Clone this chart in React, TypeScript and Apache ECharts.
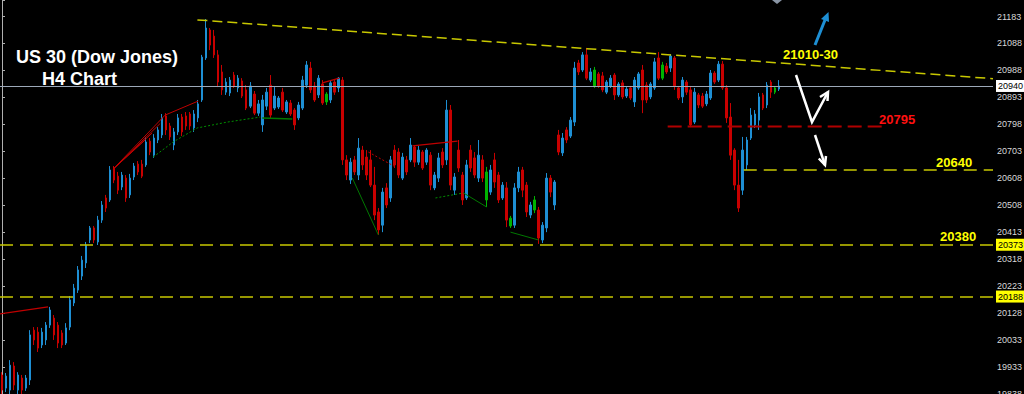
import { useEffect, useRef } from "react";
import * as echarts from "echarts";

// ---------- data ----------
const slotCount = 248; // candle slots incl. empty space right of last bar
const categories = Array.from({ length: slotCount }, (_, i) => String(i + 1));

// [open, close, low, high]
const candles: number[][] = [
  [19908, 19854, 19840, 19918], [19861, 19904, 19847, 19915], [19854, 19943, 19840, 19961], [19940, 19872, 19854, 19954],
  [19854, 19908, 19840, 19918], [19897, 19854, 19840, 19908], [19861, 19897, 19851, 19908], [19890, 20051, 19872, 20068],
  [20068, 20033, 20015, 20079], [20061, 20004, 19990, 20079], [20015, 20061, 20004, 20076], [20033, 20086, 20015, 20097],
  [20086, 20140, 20076, 20151], [20111, 20051, 20033, 20122], [20086, 20022, 20004, 20097], [20058, 20015, 20004, 20068],
  [20022, 20076, 20015, 20093], [20079, 20176, 20068, 20190], [20165, 20218, 20154, 20233], [20211, 20283, 20201, 20297],
  [20261, 20318, 20247, 20333], [20308, 20372, 20290, 20383], [20390, 20433, 20379, 20440], [20433, 20390, 20379, 20440],
  [20383, 20461, 20372, 20476], [20461, 20515, 20451, 20529], [20540, 20504, 20490, 20551], [20533, 20640, 20526, 20654],
  [20647, 20604, 20593, 20654], [20618, 20568, 20554, 20633], [20579, 20622, 20568, 20633], [20611, 20540, 20526, 20622],
  [20551, 20611, 20540, 20626], [20615, 20654, 20604, 20665], [20661, 20633, 20622, 20672], [20661, 20618, 20611, 20676],
  [20658, 20740, 20651, 20758], [20743, 20704, 20693, 20754], [20693, 20754, 20683, 20768], [20747, 20783, 20736, 20793],
  [20765, 20826, 20754, 20840], [20833, 20783, 20765, 20843], [20797, 20758, 20747, 20808], [20729, 20776, 20711, 20790],
  [20776, 20826, 20765, 20840], [20829, 20776, 20761, 20840], [20833, 20797, 20783, 20847], [20840, 20797, 20783, 20847],
  [20790, 20840, 20776, 20854], [20826, 20876, 20811, 20890], [20890, 21043, 20883, 21051], [21040, 21147, 21033, 21179],
  [21140, 21086, 21068, 21147], [21118, 21051, 21040, 21140], [21051, 20954, 20936, 21068], [20990, 20926, 20908, 21015],
  [20918, 20954, 20908, 20968], [20915, 20961, 20904, 20972], [20979, 20940, 20933, 20990], [20933, 20968, 20918, 20979],
  [20958, 20904, 20897, 20968], [20926, 20861, 20854, 20943], [20868, 20940, 20861, 20954], [20911, 20843, 20836, 20922],
  [20843, 20876, 20833, 20890], [20801, 20890, 20776, 20908], [20868, 20918, 20854, 20933], [20943, 20836, 20826, 20979],
  [20861, 20904, 20854, 20936], [20865, 20897, 20858, 20904], [20918, 20854, 20847, 20933], [20847, 20883, 20840, 20890],
  [20879, 20840, 20833, 20890], [20854, 20801, 20783, 20861], [20826, 20872, 20818, 20883], [20861, 20961, 20854, 20976],
  [20943, 21015, 20933, 21029], [21004, 20926, 20915, 21026], [20940, 20890, 20883, 20954], [20908, 20968, 20897, 20979],
  [20947, 20879, 20872, 20961], [20883, 20911, 20872, 20918], [20890, 20951, 20879, 20961], [20954, 20918, 20908, 20961],
  [20933, 20968, 20918, 20972], [20961, 20676, 20658, 20972], [20676, 20622, 20604, 20693], [20604, 20668, 20590, 20683],
  [20676, 20633, 20622, 20690], [20622, 20718, 20604, 20754], [20711, 20658, 20640, 20726], [20686, 20622, 20604, 20711],
  [20676, 20586, 20579, 20711], [20586, 20479, 20461, 20651], [20490, 20426, 20408, 20504], [20443, 20561, 20418, 20576],
  [20576, 20515, 20504, 20593], [20540, 20676, 20526, 20690], [20711, 20658, 20647, 20729], [20704, 20622, 20611, 20718],
  [20611, 20686, 20604, 20701], [20676, 20633, 20622, 20690], [20676, 20729, 20668, 20754], [20722, 20668, 20651, 20729],
  [20668, 20711, 20658, 20726], [20704, 20647, 20640, 20711], [20668, 20711, 20658, 20718], [20693, 20586, 20568, 20704],
  [20576, 20622, 20568, 20633], [20611, 20683, 20597, 20701], [20704, 20658, 20647, 20718], [20676, 20854, 20658, 20890],
  [20854, 20586, 20568, 20872], [20568, 20615, 20551, 20629], [20711, 20647, 20633, 20747], [20622, 20533, 20515, 20633],
  [20540, 20658, 20533, 20676], [20711, 20647, 20633, 20729], [20683, 20622, 20611, 20704], [20611, 20693, 20597, 20747],
  [20676, 20611, 20597, 20693], [20633, 20533, 20508, 20651], [20561, 20640, 20551, 20658], [20676, 20597, 20576, 20701],
  [20622, 20533, 20522, 20633], [20540, 20586, 20533, 20597], [20576, 20461, 20436, 20597], [20468, 20440, 20433, 20476],
  [20443, 20576, 20433, 20593], [20576, 20633, 20561, 20651], [20640, 20568, 20543, 20651], [20586, 20490, 20472, 20597],
  [20479, 20515, 20468, 20526], [20497, 20533, 20486, 20547], [20497, 20397, 20376, 20508], [20390, 20443, 20379, 20454],
  [20433, 20611, 20418, 20629], [20611, 20561, 20543, 20622], [20515, 20597, 20497, 20604], [20765, 20704, 20693, 20783],
  [20701, 20754, 20690, 20772], [20783, 20747, 20736, 20793], [20761, 20818, 20754, 20829], [20811, 21004, 20797, 21026],
  [21022, 20990, 20979, 21033], [20997, 21051, 20990, 21061], [21051, 20968, 20961, 21076], [20961, 20990, 20954, 21004],
  [20997, 20940, 20933, 21008], [20983, 20940, 20933, 20990], [20976, 20926, 20918, 20990], [20918, 20954, 20911, 20961],
  [20940, 20968, 20933, 20979], [20979, 20908, 20890, 20986], [20908, 20947, 20901, 20954], [20951, 20901, 20893, 20961],
  [20904, 20929, 20897, 20936], [20933, 20897, 20890, 20940], [20883, 20961, 20865, 20972], [20933, 20983, 20926, 20990],
  [20997, 20890, 20843, 21015], [20943, 20890, 20879, 20954], [20901, 20947, 20893, 20954], [20933, 21026, 20926, 21040],
  [21040, 20968, 20961, 21061], [20968, 21015, 20961, 21026], [21011, 20990, 20983, 21022], [21004, 21047, 20990, 21054],
  [21040, 20940, 20926, 21047], [20933, 20897, 20890, 20940], [20901, 20961, 20879, 20972], [20954, 20918, 20908, 20961],
  [20926, 20801, 20793, 20940], [20811, 20918, 20804, 20933], [20908, 20872, 20861, 20915], [20904, 20868, 20861, 20915],
  [20876, 20911, 20868, 20922], [20897, 20986, 20890, 20997], [20986, 20954, 20947, 20993], [20961, 21018, 20954, 21029],
  [21018, 20933, 20926, 21029], [20933, 20826, 20808, 20943], [20829, 20693, 20676, 20879], [20711, 20586, 20568, 20718],
  [20586, 20504, 20490, 20676], [20568, 20711, 20551, 20758], [20658, 20747, 20640, 20758], [20754, 20836, 20747, 20861],
  [20801, 20840, 20790, 20854], [20818, 20901, 20783, 20915], [20908, 20861, 20854, 20915], [20872, 20943, 20861, 20954],
  [20954, 20918, 20897, 20961], [20918, 20933, 20911, 20940], [20929, 20940, 20922, 20961],
];
const greenCandles = [81, 121, 127, 133, 148, 165, 193];

const yTickLabels = ["19838", "19933", "20033", "20128", "20223", "20318", "20413", "20508", "20608", "20703", "20798", "20893", "20988", "21088", "21183"];
const yTickBase = 206;
const yInterval = 96.288;
const yMin = 19840;
const yMax = 21247;

const bidPrice = 20940;
const supportLevels = [20373, 20188];

// [slot index, price]
const resistanceLine = [[48.8, 21176], [247.5, 20966]];
const redLevelLine = [[166.25, 20795], [220.25, 20795]];
const yellowLevelLine = [[185.25, 20640], [247.5, 20640]];
const redLeftLine = [[-0.5, 20126], [11.5, 20151]];
const redFanMain = [[27.75, 20643], [40.75, 20836], [49, 20886]];
const redFan2 = [[27.75, 20643], [35.75, 20747]];
const redFan3 = [[27.75, 20643], [37.5, 20772]];
const redFan4 = [[27.75, 20643], [39.5, 20806]];
const greenDotted1 = [[37.75, 20686], [42.75, 20740], [48.75, 20790], [56.25, 20811], [64.5, 20829]];
const greenSolid1 = [[65, 20826], [72.5, 20822]];
const redShort = [[80, 20951], [84.25, 20968]];
const greenLine2 = [[87.5, 20611], [94, 20408]];
const redDotted2 = [[91.5, 20704], [98.25, 20651]];
const redLine3 = [[102.5, 20726], [113.75, 20743]];
const greenDotted2 = [[108.25, 20540], [115.25, 20558]];
const greenLine3 = [[115.25, 20558], [121, 20508]];
const greenLine4 = [[127, 20418], [134, 20390]];

const BLUE = "#1e8fd4";
const RED = "#c80000";
const GREEN = "#00b400";
const FONT = "'Liberation Sans', Arial, sans-serif";

export default function App() {
  const ref = useRef<HTMLDivElement>(null);
  useEffect(() => {
    if (!ref.current) return;
    document.body.style.margin = "0";
    document.body.style.background = "#000";
    const chart = echarts.init(ref.current, undefined, { renderer: "svg" });

    const candleData = candles.map((c, i) =>
      greenCandles.includes(i)
        ? { value: c, itemStyle: { color: GREEN, color0: GREEN, borderColor: GREEN, borderColor0: GREEN } }
        : c
    );

    const lineSeries = (data: number[][], color: string, width: number, type: any, z = 3) => ({
      type: "line",
      xAxisIndex: 1,
      yAxisIndex: 0,
      data,
      symbol: "none",
      silent: true,
      z,
      lineStyle: { color, width, type },
    });

    const boxLabel = (bg: string) => ({
      show: true,
      position: "end",
      distance: 3,
      color: "#000",
      backgroundColor: bg,
      padding: [2, 2, 1, 2],
      fontSize: 9,
      fontFamily: FONT,
    });

    const option: any = {
      animation: false,
      backgroundColor: "#000",
      grid: { left: 0, right: 31, top: 0, bottom: 0, containLabel: false, outerBoundsMode: "none" },
      xAxis: [
        { type: "category", data: categories, show: false, boundaryGap: true },
        { type: "value", min: -0.5, max: slotCount - 0.5, show: false },
      ],
      yAxis: {
        type: "value",
        position: "right",
        min: yMin,
        max: yMax,
        interval: yInterval,
        axisLine: { show: true, lineStyle: { color: "#b0b0b0" } },
        axisTick: { show: true, length: 3, lineStyle: { color: "#b0b0b0" } },
        splitLine: { show: false },
        axisLabel: {
          color: "#d8d8d8",
          fontSize: 9,
          fontFamily: FONT,
          margin: 4,
          formatter: (v: number) => yTickLabels[Math.round(v / yInterval) - yTickBase] ?? "",
        },
      },
      series: [
        {
          type: "candlestick",
          xAxisIndex: 0,
          yAxisIndex: 0,
          data: candleData,
          barWidth: 2,
          itemStyle: { color: BLUE, color0: RED, borderColor: BLUE, borderColor0: RED, borderWidth: 1 },
          markLine: {
            silent: true,
            symbol: ["none", "none"],
            data: [
              { yAxis: bidPrice, lineStyle: { color: "#9ca8b8", width: 1, type: "solid" }, label: { ...boxLabel("#ffffff"), formatter: String(bidPrice) } },
              ...supportLevels.map((v) => ({
                yAxis: v,
                lineStyle: { color: "#c8c800", width: 1.5, type: [13, 7] },
                label: { ...boxLabel("#ffff00"), formatter: String(v) },
              })),
            ],
          },
        },
        lineSeries(resistanceLine, "#c8c800", 1.5, [10, 5], 4),
        lineSeries(redLevelLine, "#b00000", 2, [14, 6]),
        lineSeries(yellowLevelLine, "#c8c800", 1.5, [13, 7]),
        lineSeries(redLeftLine, "#c00000", 1.2, "solid"),
        lineSeries(redFanMain, "#c00000", 1, "solid"),
        lineSeries(redFan2, "#c00000", 1, "solid"),
        lineSeries(redFan3, "#c00000", 1, "solid"),
        lineSeries(redFan4, "#c00000", 1, "solid"),
        lineSeries(greenDotted1, "#009000", 1, [2, 2]),
        lineSeries(greenSolid1, "#007800", 1.5, "solid"),
        lineSeries(redShort, "#c00000", 1.2, "solid"),
        lineSeries(greenLine2, "#007800", 1, "solid"),
        lineSeries(redDotted2, "#c00000", 1, [2, 2]),
        lineSeries(redLine3, "#c00000", 1.2, "solid"),
        lineSeries(greenDotted2, "#009000", 1, [2, 2]),
        lineSeries(greenLine3, "#007800", 1, "solid"),
        lineSeries(greenLine4, "#007800", 1, "solid"),
      ],
      graphic: [
        { type: "text", x: 16, y: 57, z: 10, style: { text: "US 30 (Dow Jones)", fill: "#ffffff", fontSize: 18, fontWeight: "bold", fontFamily: FONT, align: "left", verticalAlign: "middle" } },
        { type: "text", x: 42, y: 79, z: 10, style: { text: "H4 Chart", fill: "#ffffff", fontSize: 18, fontWeight: "bold", fontFamily: FONT, align: "left", verticalAlign: "middle" } },
        { type: "text", x: 783, y: 54, z: 10, style: { text: "21010-30", fill: "#ffff00", fontSize: 13, fontWeight: "bold", fontFamily: FONT, align: "left", verticalAlign: "middle" } },
        { type: "text", x: 879, y: 119, z: 10, style: { text: "20795", fill: "#ff1010", fontSize: 13, fontWeight: "bold", fontFamily: FONT, align: "left", verticalAlign: "middle" } },
        { type: "text", x: 936, y: 162, z: 10, style: { text: "20640", fill: "#ffff00", fontSize: 13, fontWeight: "bold", fontFamily: FONT, align: "left", verticalAlign: "middle" } },
        { type: "text", x: 940, y: 236, z: 10, style: { text: "20380", fill: "#ffff00", fontSize: 13, fontWeight: "bold", fontFamily: FONT, align: "left", verticalAlign: "middle" } },
        // blue arrow
        { type: "polyline", z: 10, shape: { points: [[815, 45], [825, 20]] }, style: { stroke: "#1e8fd4", lineWidth: 3, fill: null } },
        { type: "polygon", z: 10, shape: { points: [[828.5, 12], [829, 22], [821, 19]] }, style: { fill: "#1e8fd4" } },
        // white arrows
        { type: "polyline", z: 10, shape: { points: [[796, 75], [812, 122], [828, 92]] }, style: { stroke: "#ffffff", lineWidth: 2.5, fill: null, lineJoin: "miter" } },
        { type: "polyline", z: 10, shape: { points: [[820, 97], [828, 92], [827.5, 101]] }, style: { stroke: "#ffffff", lineWidth: 2.5, fill: null } },
        { type: "polyline", z: 10, shape: { points: [[815, 135], [825, 165]] }, style: { stroke: "#ffffff", lineWidth: 2.5, fill: null } },
        { type: "polyline", z: 10, shape: { points: [[818.8, 158.5], [825, 165], [826, 156]] }, style: { stroke: "#ffffff", lineWidth: 2.5, fill: null } },
        // chart shift marker
        { type: "polygon", z: 10, shape: { points: [[772, 0], [782, 0], [777, 4]] }, style: { fill: "#8a95a5" } },
      ],
    };
    chart.setOption(option);
    return () => chart.dispose();
  }, []);
  return <div ref={ref} style={{ position: "fixed", left: 0, top: 0, width: 1024, height: 394 }} />;
}
